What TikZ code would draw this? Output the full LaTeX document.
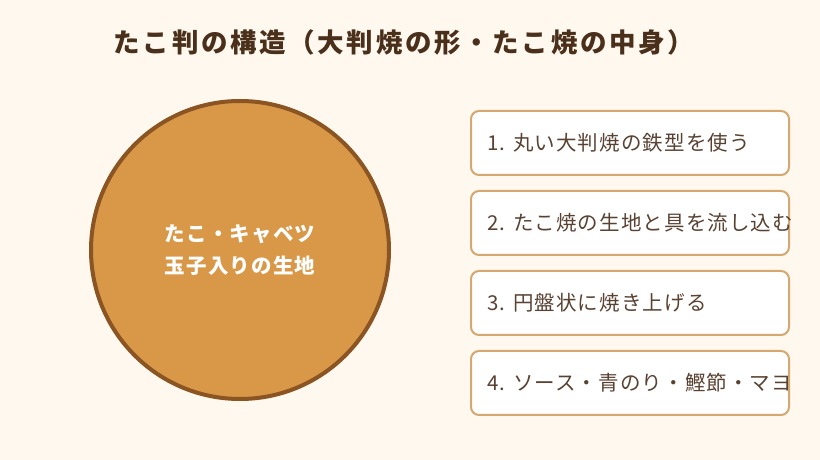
\documentclass[tikz,border=0pt]{standalone}
\usepackage{fontspec}
\setmainfont{Noto Sans CJK JP}
\usepackage{tikz}
\usetikzlibrary{positioning}
\definecolor{bgcream}{HTML}{FFF8EE}
\definecolor{titlebrown}{HTML}{4A2F1A}
\definecolor{panfill}{HTML}{D89848}
\definecolor{panedge}{HTML}{8B5523}
\definecolor{boxedge}{HTML}{D4A870}
\definecolor{textbrown}{HTML}{5A4232}
\tikzset{
  stepbox/.style={rectangle, rounded corners=8pt, draw=boxedge, line width=2pt,
    fill=white, minimum width=318pt, minimum height=64pt, inner sep=0pt},
  steptext/.style={anchor=west, text=textbrown, font=\fontsize{20.5pt}{24pt}\selectfont\addfontfeatures{LetterSpace=5.5}, inner sep=0pt},
}

\begin{document}
\begin{tikzpicture}[x=1pt, y=1pt]
                \useasboundingbox[fill=bgcream] (0,0) rectangle (820,460);

                \node[text=titlebrown, font=\fontsize{26.5pt}{30pt}\selectfont\bfseries\addfontfeatures{LetterSpace=10}] (title) at (404, 418) {たこ判の構造（大判焼の形・たこ焼の中身）};

                \node[circle, minimum size=298pt, line width=4pt, draw=panedge, fill=panfill, align=center, text=white, font=\fontsize{20.5pt}{32pt}\selectfont\bfseries\addfontfeatures{LetterSpace=6}] (pan) at (240, 210) {たこ・キャベツ\\玉子入りの生地};

                \node[stepbox] (step1) at (630, 317) {};
                \node[stepbox] (step2) at (630, 237) {};
                \node[stepbox] (step3) at (630, 157) {};
                \node[stepbox] (step4) at (630, 77) {};

                \node[steptext] (text1) at ([xshift=17pt]step1.west) {1. 丸い大判焼の鉄型を使う};
                \node[steptext] (text2) at ([xshift=17pt]step2.west) {2. たこ焼の生地と具を流し込む};
                \node[steptext] (text3) at ([xshift=17pt]step3.west) {3. 円盤状に焼き上げる};
                \node[steptext] (text4) at ([xshift=17pt]step4.west) {4. ソース・青のり・鰹節・マヨ};
            \end{tikzpicture}
\end{document}
